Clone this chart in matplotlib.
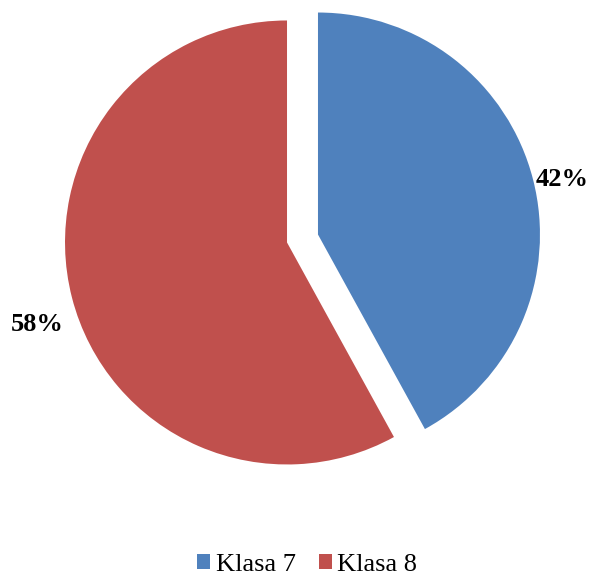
import matplotlib.pyplot as plt
from matplotlib.patches import Patch

categories = ['Klasa 7', 'Klasa 8']
shares = [42, 58]
colors = ['#4F81BD', '#C0504D']

plt.rcParams['font.family'] = ['Liberation Serif', 'DejaVu Serif']

fig = plt.figure(figsize=(5.92, 5.78), dpi=100)
ax = fig.add_axes([0, 0, 1, 1])

wedges, texts, autotexts = ax.pie(
    shares, colors=colors, startangle=90, counterclock=False,
    explode=[0.072, 0.072], radius=1.0,
    autopct='%1.0f%%', pctdistance=1.15,
    textprops=dict(fontsize=19, fontweight='bold', color='black'),
)

# nudge the percentage labels to sit just outside each slice
label_pos = [(1.171, 0.2635), (-1.194, -0.3896)]
for t, pos in zip(autotexts, label_pos):
    t.set_position(pos)
    t.set_ha('center')
    t.set_va('center')

ax.set_xlim(-1.3626, 1.3041)
ax.set_ylim(-1.5293, 1.0743)
ax.set_aspect('equal')
ax.axis('off')

handles = [Patch(facecolor=c, edgecolor='none') for c in colors]
fig.legend(handles, categories, loc='center', bbox_to_anchor=(0.519, 0.022),
           ncol=2, frameon=False, fontsize=19, handlelength=0.5,
           handleheight=0.5, handletextpad=0.2, columnspacing=0.87,
           borderpad=0)

fig.savefig('out.png', dpi=100)
